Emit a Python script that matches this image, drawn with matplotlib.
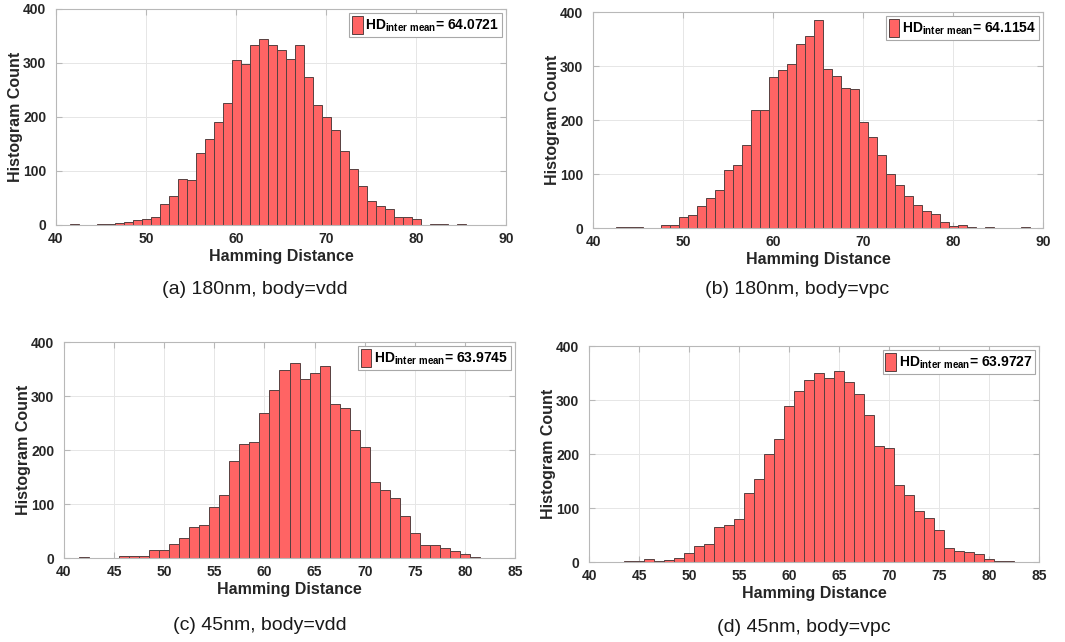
import matplotlib
matplotlib.use("Agg")
import matplotlib.pyplot as plt

plt.rcParams['font.family'] = ['Liberation Sans', 'DejaVu Sans']
plt.rcParams['mathtext.fontset'] = 'custom'
plt.rcParams['mathtext.rm'] = 'Liberation Sans'
plt.rcParams['mathtext.bf'] = 'Liberation Sans:bold'

# Hamming distance bins (centres) and counts
bins_a = list(range(42, 86))
counts_a = [1, 0, 0, 2, 2, 4, 6, 9, 12, 15, 38, 54, 85, 83, 133, 159, 191, 226,
            306, 298, 334, 344, 334, 324, 307, 334, 274, 222, 200, 176, 137, 104,
            73, 44, 35, 30, 14, 15, 11, 0, 2, 1, 0, 1]

bins_b = list(range(43, 89))
counts_b = [1, 1, 2, 0, 0, 6, 6, 20, 24, 41, 56, 70, 107, 117, 154, 219, 219,
            280, 293, 304, 341, 355, 385, 294, 281, 259, 257, 196, 169, 136, 100,
            80, 59, 43, 31, 26, 12, 4, 6, 2, 0, 1, 0, 0, 0, 1]

bins_c = list(range(42, 82))
counts_c = [1, 0, 0, 0, 3, 3, 4, 14, 14, 26, 37, 57, 61, 94, 116, 180, 211, 214,
            269, 311, 348, 361, 331, 342, 355, 285, 277, 237, 206, 141, 126, 112,
            77, 46, 25, 25, 19, 13, 8, 2]

bins_d = list(range(44, 83))
counts_d = [1, 1, 6, 2, 4, 7, 17, 29, 33, 65, 69, 80, 128, 154, 200, 228, 289,
            317, 337, 350, 341, 354, 333, 312, 272, 215, 211, 142, 124, 94, 81,
            59, 26, 21, 19, 15, 6, 2, 1]

means = ['64.0721', '64.1154', '63.9745', '63.9727']
captions = ['(a) 180nm, body=vdd', '(b) 180nm, body=vpc',
            '(c) 45nm, body=vdd', '(d) 45nm, body=vpc']
xticks_180 = [40, 50, 60, 70, 80, 90]
xticks_45 = [40, 45, 50, 55, 60, 65, 70, 75, 80, 85]
yticks = [0, 100, 200, 300, 400]

W, H = 1065, 642
fig = plt.figure(figsize=(W / 100, H / 100), dpi=100)


def box(l, t, r, b):
    return [l / W, 1 - b / H, (r - l) / W, (b - t) / H]


def panel(rect, bins, counts, xticks, mean):
    ax = fig.add_axes(rect)
    ax.bar(bins, counts, width=1.0, color='#ff6464', edgecolor='#574040',
           linewidth=0.7, zorder=2,
           label=r'$\mathbf{HD}_{\mathbf{inter\ mean}}$= ' + mean)
    ax.set_xlim(xticks[0], xticks[-1])
    ax.set_ylim(0, 400)
    ax.set_xticks(xticks)
    ax.set_yticks(yticks)
    ax.grid(True, color='#e6e6e6', linewidth=0.7, zorder=0)
    ax.set_axisbelow(True)
    for s in ax.spines.values():
        s.set_color('#b8b8b8')
        s.set_linewidth(0.8)
    ax.tick_params(direction='in', length=4, color='#b8b8b8',
                   top=True, right=True, labelsize=10, labelcolor='#262626')
    ax.tick_params(axis='y', pad=7)
    ax.tick_params(axis='x', pad=5)
    for lab in ax.get_xticklabels() + ax.get_yticklabels():
        lab.set_fontweight('bold')
    ax.set_xlabel('Hamming Distance', fontsize=11.5, fontweight='bold',
                  color='#262626', labelpad=2)
    ax.set_ylabel('Histogram Count', fontsize=11.5, fontweight='bold',
                  color='#262626', labelpad=0)
    leg = ax.legend(loc='upper right', prop={'weight': 'bold', 'size': 10},
                    fancybox=False, edgecolor='#a8a8a8', framealpha=1,
                    handlelength=0.75, handleheight=1.6, handletextpad=0.2,
                    borderpad=0.2, borderaxespad=0.3)
    leg.get_frame().set_linewidth(0.8)
    return ax


panel(box(56, 9, 506, 225), bins_a, counts_a, xticks_180, means[0])
panel(box(593, 12, 1043, 228), bins_b, counts_b, xticks_180, means[1])
panel(box(64, 342, 515, 558), bins_c, counts_c, xticks_45, means[2])
panel(box(589, 346, 1039, 562), bins_d, counts_d, xticks_45, means[3])

cap_pos = [(255, 290), (797, 290), (260, 626), (804, 627)]
for (cx, cy), txt in zip(cap_pos, captions):
    fig.text(cx / W, 1 - cy / H, txt, fontsize=14, ha='center', va='center',
             color='#1a1a1a')

fig.savefig('out.png', dpi=100)
